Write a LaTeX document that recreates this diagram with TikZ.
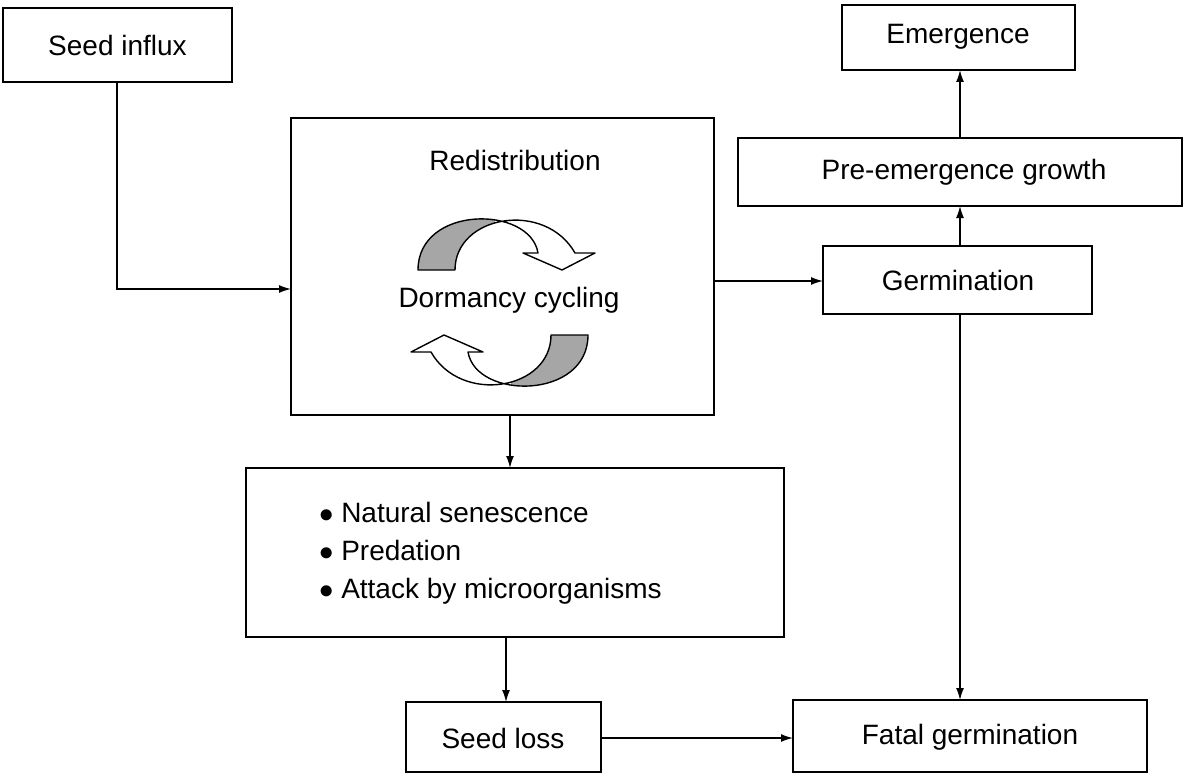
\documentclass[tikz,border=0pt]{standalone}
\usepackage{fontspec}
\setmainfont{Liberation Sans}
\begin{document}
\begin{tikzpicture}[x=0.5pt,y=-0.5pt,
  box/.style={draw,line width=0.8pt,rectangle,inner sep=0pt},
  txt/.style={font=\fontsize{14}{17}\selectfont},
  arr/.style={draw,line width=0.7pt,-{Latex[length=6pt,width=4pt]}}]
\useasboundingbox (0,0) rectangle (1192,775);
\usetikzlibrary{arrows.meta}
\path[box] (3,8) rectangle (232,82);
\node[txt] (si) at (117.5,45) {Seed influx};
\coordinate (siB) at (117,82);
\path[box] (842,5) rectangle (1075,70);
\node[txt] (em) at (958,37) {Emergence};
\path[box] (738,138) rectangle (1182,206);
\node[txt] (pe) at (964,172) {Pre-emergence growth};
\path[box] (291,118) rectangle (714,415);
\node[txt] (rd) at (515,160) {Redistribution};
\node[txt] (dc) at (509,300) {Dormancy cycling};
\path[box] (823,246) rectangle (1092,314);
\node[txt] (ge) at (958,280) {Germination};
\path[box] (246,468) rectangle (784,637);
\node[txt,align=left,anchor=west] (ls) at (312,553) {$\bullet$ Natural senescence\\[2pt]$\bullet$ Predation\\[2pt]$\bullet$ Attack by microorganisms};
\path[box] (406,702) rectangle (601,772);
\node[txt] (sl) at (503,738) {Seed loss};
\path[box] (793,700) rectangle (1147,772);
\node[txt] (fg) at (970,737) {Fatal germination};
% connectors
\coordinate (a1) at (117,82); \coordinate (a2) at (117,289); \coordinate (a3) at (291,289);
\draw[arr] (a1) -- (a2) -- (a3);
\coordinate (b1) at (714,281); \coordinate (b2) at (823,281);
\draw[arr] (b1) -- (b2);
\coordinate (c1) at (960,246); \coordinate (c2) at (960,206);
\draw[arr] (c1) -- (c2);
\coordinate (d1) at (960,138); \coordinate (d2) at (960,70);
\draw[arr] (d1) -- (d2);
\coordinate (e1) at (960,314); \coordinate (e2) at (960,700);
\draw[arr] (e1) -- (e2);
\coordinate (f1) at (510,415); \coordinate (f2) at (510,468);
\draw[arr] (f1) -- (f2);
\coordinate (g1) at (506,637); \coordinate (g2) at (506,702);
\draw[arr] (g1) -- (g2);
\coordinate (h1) at (601,738); \coordinate (h2) at (793,738);
\draw[arr] (h1) -- (h2);
% cycling arrows
\def\cyc{(418,270) .. controls (418,205) and (530,205) .. (538,253) -- (523,253) -- (562,270) -- (595,253) -- (575,253) .. controls (545,200) and (455,215) .. (455,270) -- cycle}
\foreach \r in {0,180}{
\begin{scope}[rotate around={\r:(503,302.5)}]
\fill[white] \cyc;
\begin{scope}
\clip (400,200) rectangle (495,280);
\fill[gray!70] \cyc;
\end{scope}
\draw[line width=0.7pt,line join=round] \cyc;
\end{scope}}
\end{tikzpicture}
\end{document}
